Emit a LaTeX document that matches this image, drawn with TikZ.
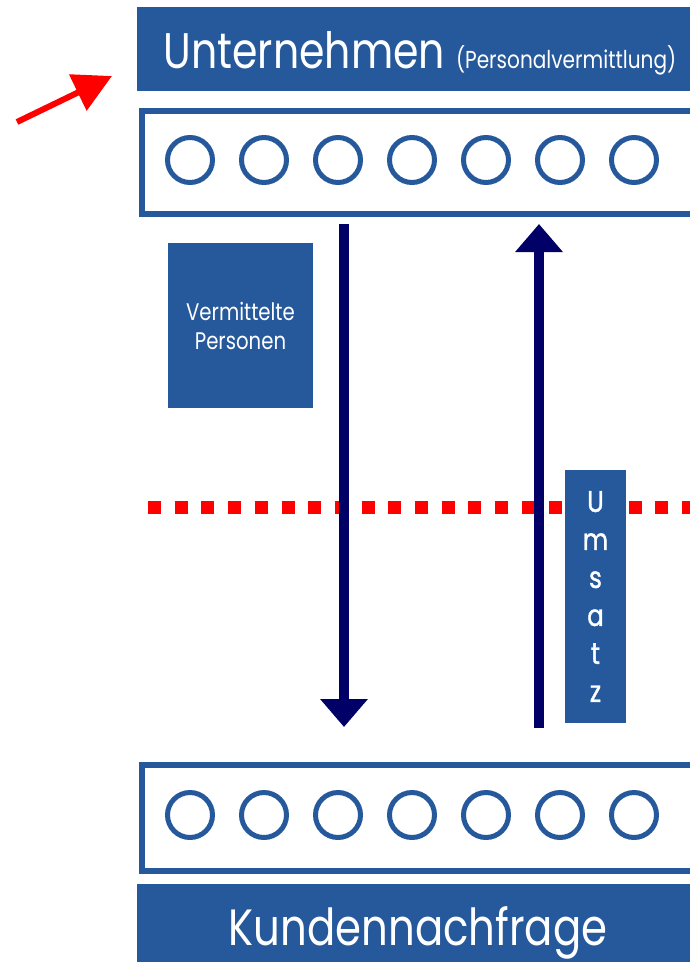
\documentclass[tikz,border=0pt]{standalone}
\usepackage{fontspec}
\setmainfont{Poppins}[FakeStretch=0.82]
\usetikzlibrary{arrows.meta, positioning}
\definecolor{balken}{RGB}{38,89,155}
\definecolor{marine}{RGB}{0,0,102}

\begin{document}
\begin{tikzpicture}[x=1pt, y=-1pt,
    bar/.style={rectangle, fill=balken, inner sep=0pt, anchor=north west},
    leiste/.style={rectangle, draw=balken, line width=6pt, fill=white, inner sep=0pt, anchor=north west},
    kreis/.style={circle, draw=balken, line width=5pt, minimum size=45pt, inner sep=0pt},
    pfeil/.style={draw=marine, line width=10pt, -{Triangle[width=46pt, length=28pt]}}]

    \useasboundingbox (0,0) rectangle (689,962);

    %draws the two title bars
    \node (firma) [bar, minimum width=600pt, minimum height=84pt] at (137,7) {};%draws bar on top
    \node (kunden) [bar, minimum width=600pt, minimum height=100pt] at (137,884) {};%draws bar at the bottom
    \node (firmaText) [anchor=base, text=white] at (420,68)
        {\fontsize{50}{50}\selectfont Unternehmen \fontsize{24.5}{25}\selectfont(Personalvermittlung)};%labels top bar
    \node (kundenText) [anchor=base, text=white, font=\fontsize{51}{51}\selectfont] at (418,945) {Kundennachfrage};%labels bottom bar

    %draws the boxes with the circles
    \node (obenBox) [leiste, minimum width=580pt, minimum height=103pt] at (139,108) {};%draws top box
    \node (untenBox) [leiste, minimum width=580pt, minimum height=106pt] at (139,762) {};%draws bottom box
    \foreach \i in {0,...,6} {
        \node (oben\i) [kreis] at (190+74*\i,160) {};%draws top circles
        \node (unten\i) [kreis] at (190+74*\i,815) {};%draws bottom circles
    }

    %draws red dotted line
    \coordinate (grenzeL) at (148,507);
    \coordinate (grenzeR) at (700,507);
    \draw [red, line width=13pt, dash pattern=on 13pt off 13.7pt] (grenzeL) -- (grenzeR);

    %draws the label boxes
    \node (personen) [fill=balken, text=white, minimum width=145pt, minimum height=165pt,
        align=center, font=\fontsize{24}{29}\selectfont] at (240.5,325.5) {Vermittelte\\Personen};%draws Vermittelte Personen
    \node (umsatz) [fill=balken, text=white, minimum width=61pt, minimum height=253pt,
        align=center, font=\fontsize{30}{38}\selectfont\addfontfeature{FakeBold=1.2}] at (595.5,596.5) {U\\m\\s\\a\\t\\z};%draws Umsatz

    %draws the two arrows between the boxes
    \coordinate (runterA) at (344,224);
    \coordinate (runterB) at (344,727);
    \coordinate (raufA) at (539,728);
    \coordinate (raufB) at (539,224);
    \draw [pfeil] (runterA) -- (runterB);%draws arrow down
    \draw [pfeil] (raufA) -- (raufB);%draws arrow up

    %draws red arrow on the left
    \coordinate (hinweisA) at (17,122);
    \coordinate (hinweisB) at (112,76);
    \draw [red, line width=6pt, -{Triangle[width=39pt, length=38pt]}] (hinweisA) -- (hinweisB);
  \end{tikzpicture}
\end{document}
